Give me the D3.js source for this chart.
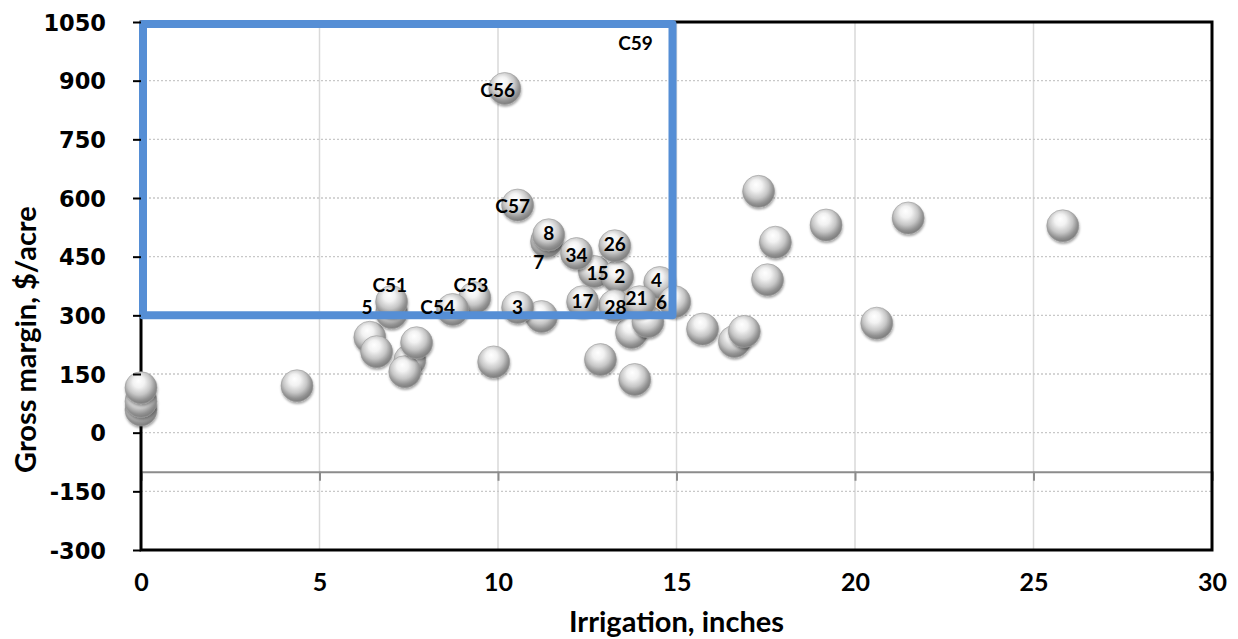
<!DOCTYPE html>
<html><head><meta charset="utf-8">
<script src="https://cdn.jsdelivr.net/npm/d3@7"></script>
<style>html,body{margin:0;padding:0;background:#fff;overflow:hidden}</style>
</head><body>
<svg id="chart" width="1238" height="639"></svg>
<script>
// ---- data ----
const xTicks = [0, 5, 10, 15, 20, 25, 30];
const yTicks = [-300, -150, 0, 150, 300, 450, 600, 750, 900, 1050];
const pointNames = ["","","","","","","","","","","","","","","","","","","","","","","","","",
  "7","8","C57","C56","15","34","2","26","4","28","21","17","6","3","C53","C54","5","C51"];
const irrigation = [0,0,0,4.37,6.41,6.6,7.53,7.39,7.72,9.88,11.22,13.74,14.2,12.87,13.83,17.3,19.19,17.77,17.55,21.49,25.82,20.61,15.73,16.62,16.9,
  11.36,11.42,10.55,10.19,12.7,12.2,13.35,13.27,14.53,13.27,13.97,12.37,14.95,10.55,9.35,8.73,7.02,7.02];
const grossMargin = [58,80,115,120,244,207,185,156,230,181,297,256,284,187,136,617,531,487,391,549,529,280,265,233,259,
  489,506,582,880,412,458,399,478,384,325,335,335,335,320,345,315,307,335];
const labelText = ["C56","C57","8","7","34","26","15","2","4","6","21","17","28","3","C53","C54","C51","5","C59"];
const labelIrr  = [9.99,10.41,11.42,11.14,12.2,13.27,12.79,13.41,14.44,14.58,13.88,12.37,13.29,10.55,9.24,8.31,6.97,6.33,13.85];
const labelGM   = [877,580,511,437,455,481,407,401,391,333,345,335,320,320,378,322,376,322,997];
const boxIrr = [0, 15];
const boxGM = [300, 1050];
const refLineGM = -100;

// ---- layout ----
const svg = d3.select("#chart");
const x = d3.scaleLinear().domain([0, 30]).range([141, 1212]);
const y = d3.scaleLinear().domain([-300, 1050]).range([550, 22]);

const defs = svg.append("defs");
const g = defs.append("radialGradient").attr("id", "sph")
  .attr("cx", "45%").attr("cy", "40%").attr("r", "60%").attr("fx", "42%").attr("fy", "28%");
[["0%","#ffffff"],["30%","#f2f2f2"],["62%","#c6c6c6"],["85%","#929292"],["100%","#7c7c7c"]]
  .forEach(s => g.append("stop").attr("offset", s[0]).attr("stop-color", s[1]));
const f = defs.append("filter").attr("id", "sh").attr("x", "-30%").attr("y", "-30%").attr("width", "160%").attr("height", "170%");
f.append("feDropShadow").attr("dx", 0.5).attr("dy", 2).attr("stdDeviation", 1.3)
  .attr("flood-color", "#000").attr("flood-opacity", 0.35);

// vertical gridlines
svg.append("g").selectAll("line").data(xTicks.filter(d => d > 0 && d < 30)).join("line")
  .attr("x1", d => x(d)).attr("x2", d => x(d)).attr("y1", y(1050)).attr("y2", y(-300))
  .attr("stroke", "#d9d9d9").attr("stroke-width", 1.5);
// horizontal dotted gridlines
svg.append("g").selectAll("line").data(yTicks.filter(d => d > -300 && d < 1050)).join("line")
  .attr("x1", x(0)).attr("x2", x(30)).attr("y1", d => y(d)).attr("y2", d => y(d))
  .attr("stroke", "#c8c8c8").attr("stroke-width", 1.3).attr("stroke-dasharray", "2,2");

// grey reference axis at -100 with ticks
const ref = d3.axisBottom(x).tickValues(xTicks).tickSize(9).tickFormat("");
const refG = svg.append("g").attr("transform", `translate(0,${y(refLineGM)})`).call(ref);
refG.select(".domain").attr("stroke", "#8c8c8c").attr("stroke-width", 2);
refG.selectAll(".tick line").attr("stroke", "#8c8c8c").attr("stroke-width", 2);

// frame
svg.append("rect").attr("x", x(0)).attr("y", y(1050)).attr("width", x(30) - x(0)).attr("height", y(-300) - y(1050))
  .attr("fill", "none").attr("stroke", "#000").attr("stroke-width", 3);

// points
const pts = irrigation.map((v, i) => ({ x: v, y: grossMargin[i], n: pointNames[i] }));
svg.append("g").selectAll("circle").data(pts).join("circle")
  .attr("cx", d => x(d.x)).attr("cy", d => y(d.y)).attr("r", 16)
  .attr("fill", "url(#sph)").attr("stroke", "#9a9a9a").attr("stroke-width", 0.6)
  .attr("filter", "url(#sh)");

// blue box
svg.append("rect")
  .attr("x", x(boxIrr[0]) + 2).attr("y", y(boxGM[1]) + 2)
  .attr("width", x(boxIrr[1]) - x(boxIrr[0]) - 6).attr("height", y(boxGM[0]) - y(boxGM[1]) - 2)
  .attr("fill", "none").attr("stroke", "#558ed5").attr("stroke-width", 8).attr("stroke-linejoin", "round");

// y axis
const ya = svg.append("g").attr("transform", `translate(${x(0)},0)`)
  .call(d3.axisLeft(y).tickValues(yTicks).tickSize(8).tickPadding(27).tickFormat(d => String(d)));
ya.select(".domain").remove();
ya.selectAll(".tick line").attr("stroke", "#000").attr("stroke-width", 2);
ya.selectAll(".tick text").attr("font-family", "'DejaVu Sans', Verdana, sans-serif")
  .attr("font-weight", "bold").attr("font-size", 22.5).attr("fill", "#000").attr("dy", "0.36em");

// x axis labels
const xa = svg.append("g").attr("transform", `translate(0,${y(-300)})`)
  .call(d3.axisBottom(x).tickValues(xTicks).tickSize(0).tickPadding(32));
xa.select(".domain").remove();
xa.selectAll(".tick text").attr("font-family", "Lato, 'Open Sans', sans-serif")
  .attr("font-weight", "bold").attr("font-size", 25).attr("fill", "#000").attr("dy", "0.36em");

// axis titles
svg.append("text").attr("x", x(15)).attr("y", 632).attr("text-anchor", "middle")
  .attr("font-family", "Lato, sans-serif").attr("font-weight", "bold").attr("font-size", 29)
  .text("Irrigation, inches");
svg.append("text").attr("transform", `translate(36,${y(238)}) rotate(-90)`).attr("text-anchor", "middle")
  .attr("font-family", "Lato, sans-serif").attr("font-weight", "bold").attr("font-size", 29)
  .text("Gross margin, $/acre");

// point labels
svg.append("g").selectAll("text").data(labelText.map((t, i) => ({ t, x: labelIrr[i], y: labelGM[i] }))).join("text")
  .attr("x", d => x(d.x)).attr("y", d => y(d.y)).attr("text-anchor", "middle").attr("dy", "0.36em")
  .attr("font-family", "Lato, sans-serif").attr("font-weight", "bold").attr("font-size", 19).attr("fill", "#000")
  .text(d => d.t);
</script>
</body></html>
